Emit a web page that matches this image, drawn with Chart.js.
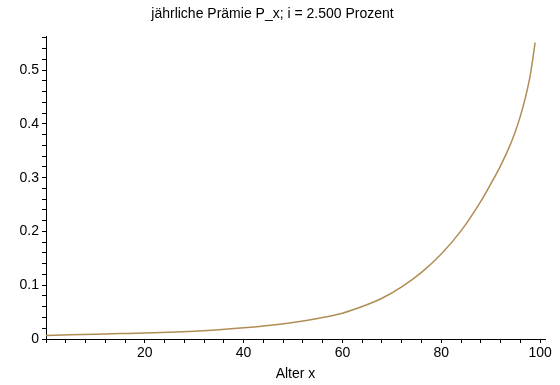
<!DOCTYPE html>
<html>
<head>
<meta charset="utf-8">
<script src="https://cdn.jsdelivr.net/npm/chart.js@4/dist/chart.umd.min.js"></script>
<style>
  html, body { margin:0; padding:0; background:#fff; }
  #wrap { width:560px; height:385px; }
</style>
</head>
<body>
<div id="wrap"><canvas id="c" width="560" height="385"></canvas></div>
<script>
/* DATA */
const ages = [0, 5, 10, 15, 20, 25, 30, 35, 40, 45, 50, 55, 60, 64, 68, 72, 76, 80, 84, 88, 90, 92, 94, 95, 96, 97, 98, 99];
const premiums = [0.0065, 0.0078, 0.009, 0.010, 0.011, 0.0125, 0.0145, 0.0172, 0.0208, 0.0252, 0.0308, 0.0382, 0.048, 0.0603, 0.0757, 0.097, 0.124, 0.158, 0.201, 0.256, 0.288, 0.322, 0.362, 0.386, 0.414, 0.448, 0.490, 0.551];
const xLabels = [20, 40, 60, 80, 100];
const yLabels = [0, 0.1, 0.2, 0.3, 0.4, 0.5];

const points = ages.map((a, i) => ({ x: a, y: premiums[i] }));
const font = { family: "'Liberation Sans', Arial, sans-serif", size: 14 };

// minor + major tick positions (labels only on the majors)
function tickList(step, last) {
  const out = [];
  for (let k = 0; k * step <= last + 1e-9; k++) out.push({ value: +(k * step).toFixed(4) });
  return out;
}

new Chart(document.getElementById("c"), {
  type: "scatter",
  data: {
    datasets: [{
      data: points,
      showLine: true,
      borderColor: "#b08d55",
      borderWidth: 1.5,
      pointRadius: 0,
      cubicInterpolationMode: "monotone"
    }]
  },
  options: {
    animation: false,
    responsive: false,
    layout: { padding: { left: 0, right: 15, top: 0, bottom: 0 } },
    plugins: {
      legend: { display: false },
      tooltip: { enabled: false },
      title: {
        display: true,
        text: "jährliche Prämie P_x; i = 2.500 Prozent",
        color: "#000",
        font: { family: font.family, size: 14, weight: "normal" },
        padding: { top: 6, bottom: 14 }
      }
    },
    scales: {
      x: {
        type: "linear",
        min: 0, max: 101,
        border: { display: true, color: "#000", width: 1 },
        grid: { drawOnChartArea: false, color: "#000", tickLength: 4 },
        ticks: {
          color: "#000",
          font: font,
          padding: 2,
          maxRotation: 0,
          autoSkip: false,
          callback: v => (v !== 0 && xLabels.includes(Math.round(v))) ? String(Math.round(v)) : ""
        },
        afterBuildTicks: s => { s.ticks = tickList(4, 100); },
        afterFit: s => { s.height = 46; },
        title: { display: true, text: "Alter x", color: "#000", font: font, padding: { top: 0, bottom: 2 } }
      },
      y: {
        min: 0, max: 0.562,
        border: { display: true, color: "#000", width: 1 },
        grid: { drawOnChartArea: false, color: "#000", tickLength: 4 },
        ticks: {
          color: "#000",
          font: font,
          padding: 3,
          autoSkip: false,
          callback: v => {
            const k = Math.round(v * 100);
            if (k % 10 !== 0) return "";
            const val = k / 100;
            return yLabels.includes(val) ? (val === 0 ? "0" : val.toFixed(1)) : "";
          }
        },
        afterBuildTicks: s => { s.ticks = tickList(0.02, 0.56); },
        afterFit: s => { s.width = 46; }
      }
    }
  }
});
</script>
</body>
</html>
